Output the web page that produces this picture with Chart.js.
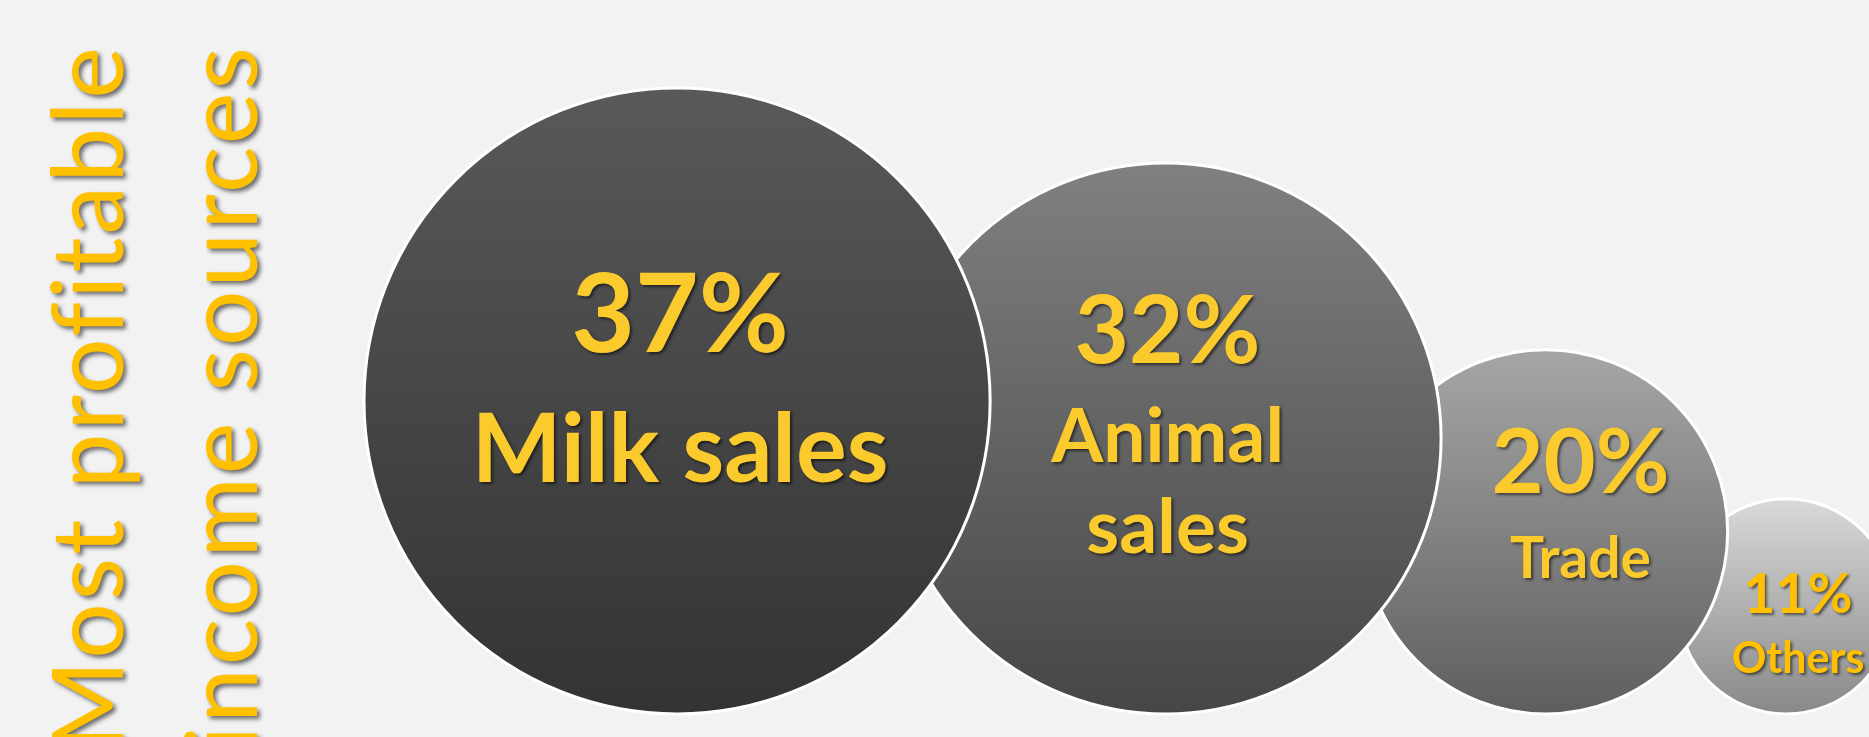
<!DOCTYPE html>
<html lang="en">
<head>
  <meta charset="UTF-8">
  <title>Most profitable income sources</title>
  <script src="https://cdn.jsdelivr.net/npm/chart.js"></script>
  <style>
    html, body { margin: 0; padding: 0; background: #f2f2f2; overflow: hidden; }
    #bubbleChart { display: block; }
  </style>
</head>
<body>
  <canvas id="bubbleChart" width="1869" height="737"></canvas>

  <script>
    // Data
    const sources = ['Milk sales', 'Animal sales', 'Trade', 'Others'];
    const shares = [37, 32, 20, 11];
    const labelLines = [['Milk sales'], ['Animal', 'sales'], ['Trade'], ['Others']];
    const titleLines = ['Most profitable', 'income sources'];

    // Styles (one entry per bubble)
    const gradTop = ['#595959', '#808080', '#a6a6a6', '#d9d9d9'];
    const gradBottom = ['#333333', '#464646', '#5e5e5e', '#888888'];
    const textColor = ['#fbcb2d', '#fbcb2d', '#fbcb2d', '#ffc000'];
    // pctSize / nameSize in px, baselines measured up from the bubble bottom, dx from centre
    const labelStyle = [
      { pctSize: 110, nameSize: 95, dx: 3,  pctBase: 362, nameBase: [232] },
      { pctSize: 94,  nameSize: 75, dx: 2,  pctBase: 351, nameBase: [252, 161] },
      { pctSize: 90,  nameSize: 57, dx: 35, pctBase: 221, nameBase: [136] },
      { pctSize: 55,  nameSize: 43, dx: 12, pctBase: 101, nameBase: [41] }
    ];

    const W = 1869, H = 737;
    const bottomGap = 23;      // space under the bubbles
    const firstLeft = 364;     // left edge of the biggest bubble
    const spacing = 0.83;      // centre distance as share of the two radii

    // bubble radius grows with the share
    function radiusFor(v) { return 13.05 * Math.pow(v, 0.88); }

    // bubbles sit on one baseline and overlap their neighbour
    const points = [];
    shares.forEach(function(v, i) {
      const r = radiusFor(v);
      let x;
      if (i === 0) x = firstLeft + r;
      else x = points[i - 1].x + (points[i - 1].r + r) * spacing;
      points.push({ x: x, y: bottomGap + r, r: r, share: v });
    });

    function bubbleFill(i) {
      return function(ctx) {
        const chart = ctx.chart;
        const p = ctx.raw;
        if (!chart.chartArea || !p) return gradTop[i];
        const cy = chart.scales.y.getPixelForValue(p.y);
        const g = chart.ctx.createLinearGradient(0, cy - p.r, 0, cy + p.r);
        g.addColorStop(0, gradTop[i]);
        g.addColorStop(1, gradBottom[i]);
        return g;
      };
    }

    const labelPlugin = {
      id: 'bubbleLabels',
      afterDatasetsDraw(chart) {
        const c = chart.ctx;
        c.save();
        c.textAlign = 'center';
        c.textBaseline = 'alphabetic';
        c.shadowColor = 'rgba(0,0,0,0.55)';
        c.shadowBlur = 3;
        c.shadowOffsetX = 2;
        c.shadowOffsetY = 2;
        chart.data.datasets.forEach(function(ds, i) {
          const el = chart.getDatasetMeta(i).data[0];
          const st = labelStyle[i];
          const bottom = el.y + points[i].r;
          const cx = el.x + st.dx;
          c.fillStyle = textColor[i];
          c.font = 'bold ' + st.pctSize + 'px Lato, "Open Sans", sans-serif';
          c.fillText(shares[i] + '%', cx, bottom - st.pctBase);
          c.font = 'bold ' + st.nameSize + 'px Lato, "Open Sans", sans-serif';
          labelLines[i].forEach(function(line, k) {
            c.fillText(line, cx, bottom - st.nameBase[k]);
          });
        });
        c.restore();
      }
    };

    const titlePlugin = {
      id: 'sideTitle',
      afterDraw(chart) {
        const c = chart.ctx;
        const baselines = [123, 257];
        c.save();
        c.fillStyle = '#ffc000';
        c.font = '400 98px Lato, "Open Sans", sans-serif';
        c.letterSpacing = '3px';
        c.textAlign = 'right';
        c.textBaseline = 'alphabetic';
        c.shadowColor = 'rgba(0,0,0,0.55)';
        c.shadowBlur = 4;
        c.shadowOffsetX = 3;
        c.shadowOffsetY = 3;
        titleLines.forEach(function(line, k) {
          c.save();
          c.translate(baselines[k], 44);
          c.rotate(-Math.PI / 2);
          c.fillText(line, 0, 0);
          c.restore();
        });
        c.restore();
      }
    };

    const datasets = points.map(function(p, i) {
      return {
        label: sources[i],
        data: [p],
        backgroundColor: bubbleFill(i),
        borderColor: '#ffffff',
        borderWidth: 3,
        hoverBorderWidth: 3,
        clip: false
      };
    });

    const ctx = document.getElementById('bubbleChart').getContext('2d');
    const bubbleChart = new Chart(ctx, {
      type: 'bubble',
      data: { datasets: datasets },
      options: {
        responsive: false,
        animation: false,
        events: [],
        layout: { padding: 0, autoPadding: false },
        scales: {
          x: { type: 'linear', min: 0, max: W, display: false },
          y: { type: 'linear', min: 0, max: H, display: false }
        },
        plugins: {
          legend: { display: false },
          tooltip: { enabled: false }
        }
      },
      plugins: [labelPlugin, titlePlugin]
    });
  </script>
</body>
</html>
